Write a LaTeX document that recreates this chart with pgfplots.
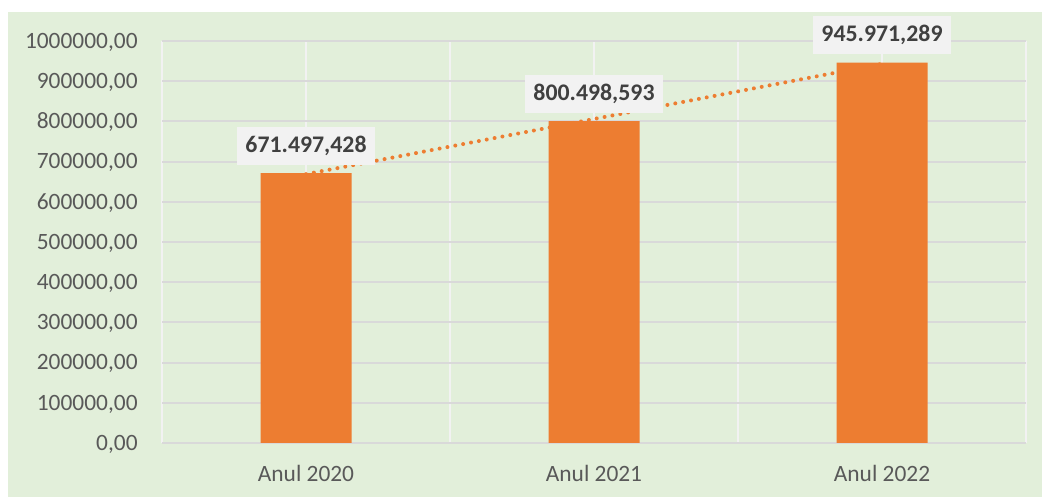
\documentclass[border=0pt]{standalone}
\usepackage{pgfplots}
\pgfplotsset{compat=1.18}
\usepackage{fontspec}
\setmainfont{Carlito}

\definecolor{bg}{HTML}{E2EFDA}
\definecolor{barc}{HTML}{ED7D31}
\definecolor{gridh}{HTML}{D9D9D9}
\definecolor{gridv}{HTML}{F2F2F2}
\definecolor{tick}{HTML}{595959}
\definecolor{labfill}{HTML}{F2F2F2}
\definecolor{labtxt}{HTML}{404040}

\pgfplotstableread{
x y lab
1 671497.428 671.497,428
2 800498.593 800.498,593
3 945971.289 945.971,289
}\valori

\begin{document}
\begin{tikzpicture}
\fill[white] (0pt,0pt) rectangle (521pt,248.5pt);
\fill[bg] (4pt,0pt) rectangle (521pt,242.5pt);
\begin{axis}[
    at={(81pt,27pt)}, anchor=south west,
    scale only axis,
    width=432pt, height=201pt,
    xmin=0.5, xmax=3.5,
    ymin=0, ymax=1000000,
    clip=false,
    xtick={1,2,3},
    xticklabels={Anul 2020,Anul 2021,Anul 2022},
    minor xtick={0.5,1,1.5,2,2.5,3,3.5},
    ytick={0,100000,200000,300000,400000,500000,600000,700000,800000,900000,1000000},
    scaled y ticks=false,
    xminorgrids, ymajorgrids,
    major grid style={draw=gridh, line width=1pt},
    minor grid style={draw=gridv, line width=1pt},
    axis line style={draw=none},
    major tick length=0pt, minor tick length=0pt,
    tick style={draw=none},
    tick label style={font=\fontsize{11.7}{14}\selectfont, text=tick},
    /pgf/number format/assume math mode=true,
    yticklabel style={/pgf/number format/fixed, /pgf/number format/fixed zerofill,
        /pgf/number format/precision=2, /pgf/number format/use comma,
        /pgf/number format/1000 sep={}},
    yticklabel style={anchor=base east, inner sep=0pt, xshift=-12pt, yshift=-3.7pt},
    xticklabel style={anchor=base, inner sep=0pt, yshift=-19.25pt},
]
% linie de tendinta (liniara)
\addplot[barc, line width=2pt, line cap=round, dash pattern=on 0pt off 4pt]
    coordinates {(1,668752) (3,943226)};
\addplot[ybar, bar width=45.5pt, fill=barc, draw=none,
    nodes near coords, point meta=explicit symbolic,
    nodes near coords style={anchor=south, yshift=4pt, fill=labfill, text=labtxt,
        font=\fontsize{11.9}{14}\selectfont\bfseries, inner sep=0pt,
        minimum width=69pt, minimum height=19pt}]
    table[x=x, y=y, meta=lab] {\valori};
\end{axis}
\pgfresetboundingbox
\useasboundingbox (0pt,0pt) rectangle (521pt,248.5pt);
\end{tikzpicture}
\end{document}
